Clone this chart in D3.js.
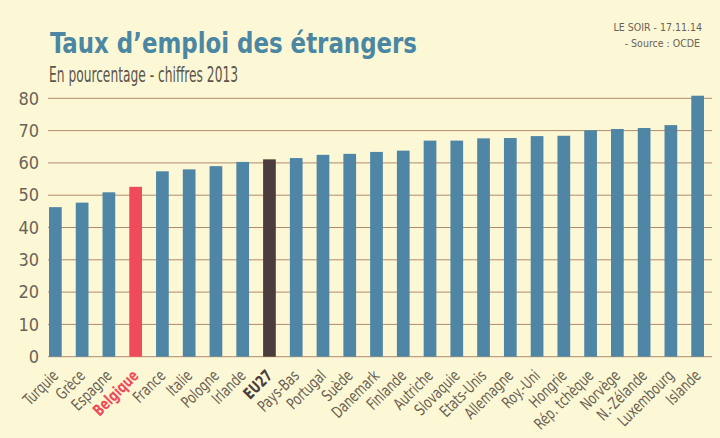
<!DOCTYPE html>
<html><head><meta charset="utf-8">
<script src="https://cdn.jsdelivr.net/npm/d3@7"></script>
<style>
html,body{margin:0;padding:0;background:#fcf8d6;}
svg{display:block;}
text{font-family:"DejaVu Sans Condensed","DejaVu Sans",sans-serif;}
</style></head>
<body>
<svg id="chart" width="720" height="438"></svg>
<script>
const categories = ["Turquie","Grèce","Espagne","Belgique","France","Italie","Pologne","Irlande","EU27","Pays-Bas","Portugal","Suède","Danemark","Finlande","Autriche","Slovaquie","Etats-Unis","Allemagne","Roy.-Uni","Hongrie","Rép. tchèque","Norvège","N.-Zélande","Luxembourg","Islande"];
const values = [46.3,47.7,50.9,52.6,57.4,58.0,59.0,60.3,61.1,61.5,62.5,62.8,63.4,63.8,66.9,66.9,67.6,67.7,68.3,68.4,70.1,70.5,70.8,71.7,80.8];
const yTicks = [0,10,20,30,40,50,60,70,80];
const highlight = {"Belgique":"#ef4b5a","EU27":"#4b3d3b"};

const svg = d3.select("#chart");
const W = 720, H = 438;
const plot = {left:48, right:712, top:98.3, bottom:356.7};

svg.append("rect").attr("width",W).attr("height",H).attr("fill","#fcf8d6");

// Title
svg.append("text").attr("x",50).attr("y",53)
  .attr("font-size",28).attr("font-weight","bold").attr("fill","#4b87a2")
  .attr("textLength",367).attr("lengthAdjust","spacingAndGlyphs")
  .text("Taux d’emploi des étrangers");
svg.append("text").attr("x",49).attr("y",81.5)
  .attr("font-size",21).attr("fill","#5c554a")
  .attr("textLength",189).attr("lengthAdjust","spacingAndGlyphs")
  .text("En pourcentage - chiffres 2013");
svg.append("text").attr("x",702).attr("y",31).attr("text-anchor","end")
  .attr("font-size",10.5).attr("fill","#6a6258")
  .text("LE SOIR - 17.11.14");
svg.append("text").attr("x",700).attr("y",47).attr("text-anchor","end")
  .attr("font-size",10.5).attr("fill","#6a6258")
  .text("- Source : OCDE");

const x = d3.scaleBand().domain(categories)
  .range([49, 704]).paddingInner(0.525).paddingOuter(0.0);
const y = d3.scaleLinear().domain([0,80]).range([plot.bottom, plot.top]);

// gridlines
const grid = svg.append("g");
grid.selectAll("line").data(yTicks).join("line")
  .attr("x1",plot.left).attr("x2",plot.right)
  .attr("y1",d=>y(d)).attr("y2",d=>y(d))
  .attr("stroke","#b08a6e").attr("stroke-width",1);

// y axis labels
const yAxis = d3.axisLeft(y).tickValues(yTicks).tickSize(0).tickPadding(0);
const ya = svg.append("g").attr("transform","translate(39,0)").call(yAxis);
ya.select(".domain").remove();
ya.selectAll("text").attr("font-size",18).attr("fill","#6b6355")
  .attr("font-family","'DejaVu Sans Condensed','DejaVu Sans',sans-serif");

// bars
svg.append("g").selectAll("rect").data(categories).join("rect")
  .attr("x",d=>x(d)).attr("width",x.bandwidth())
  .attr("y",(d,i)=>y(values[i]))
  .attr("height",(d,i)=>y(0)-y(values[i]))
  .attr("fill",d=>highlight[d]||"#4f86a5");

// x labels
const xl = svg.append("g");
xl.selectAll("text").data(categories).join("text")
  .attr("transform",d=>`translate(${x(d)+x.bandwidth()/2+4},${plot.bottom+20}) rotate(-45) scale(0.8,1)`)
  .attr("text-anchor","end")
  .attr("font-size",16)
  .attr("font-weight",d=>highlight[d]?"bold":"normal")
  .attr("fill",d=>highlight[d]||"#6b6152")
  .text(d=>d);
</script>
</body></html>
